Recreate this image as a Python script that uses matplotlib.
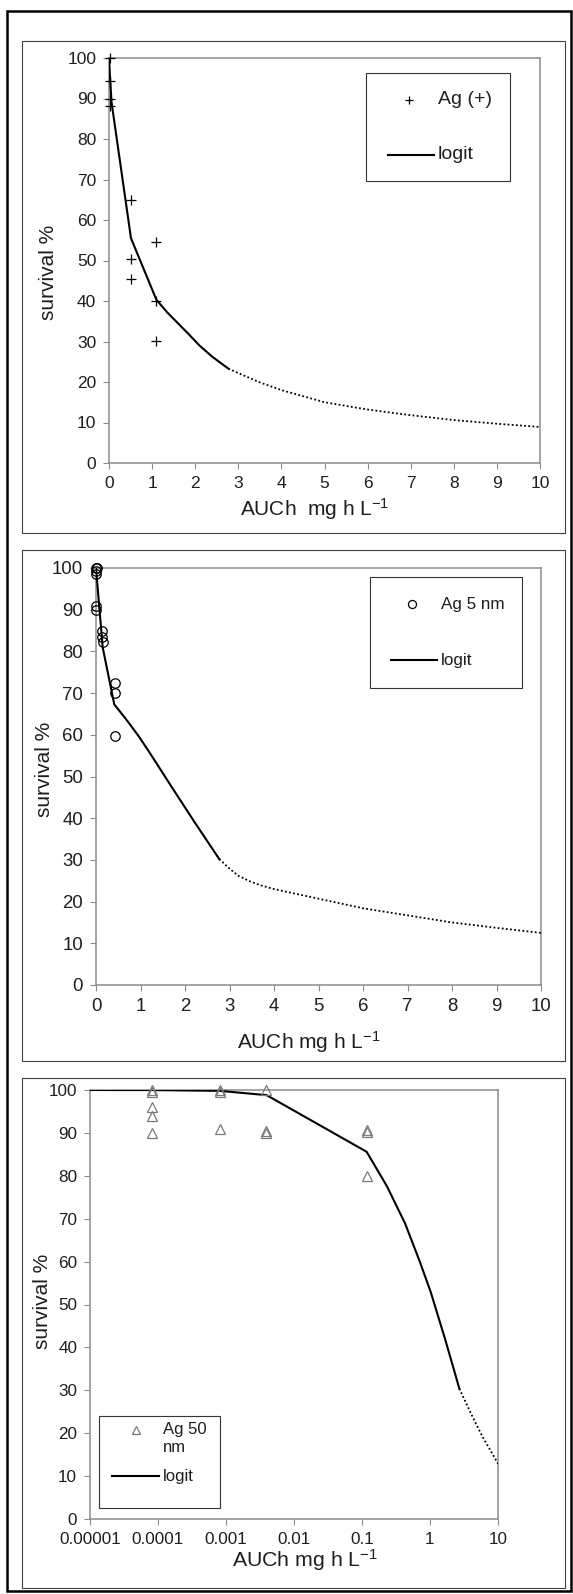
import matplotlib
matplotlib.use("Agg")
import matplotlib.pyplot as plt
from matplotlib.lines import Line2D
from matplotlib.patches import Rectangle
from matplotlib.ticker import FixedLocator, FixedFormatter

plt.rcParams['font.family'] = ['Liberation Sans', 'DejaVu Sans']
plt.rcParams['mathtext.default'] = 'regular'

W, H = 573, 1594
DPI = 100

# ---------------- data ----------------
# Panel 1: Ag (+)
ag_ion_x = [0.03, 0.03, 0.03, 0.03, 0.51, 0.51, 0.51, 1.10, 1.10, 1.10]
ag_ion_y = [100, 94.4, 90.0, 88.2, 65.0, 50.3, 45.5, 54.6, 40.1, 30.2]
ag_ion_fit_x = [0, 0.03, 0.06, 0.51, 1.10, 1.35, 1.6, 1.85, 2.1, 2.4, 2.77]
ag_ion_fit_y = [100, 94.0, 89.0, 55.5, 40.3, 37.2, 34.5, 31.8, 29.0, 26.2, 23.3]
ag_ion_ext_x = [2.77, 3, 3.5, 4, 5, 6, 7, 8, 9, 10]
ag_ion_ext_y = [23.3, 22.2, 19.9, 18.0, 15.0, 13.2, 11.8, 10.6, 9.7, 8.9]

# Panel 2: Ag 5 nm
ag5_x = [0.01, 0.02, 0.01, 0.0, 0.0, 0.01, 0.14, 0.14, 0.15, 0.43, 0.42, 0.43]
ag5_y = [100, 100, 99.2, 98.5, 90.8, 90.0, 85.0, 83.5, 82.2, 72.5, 70.0, 59.8]
ag5_fit_x = [0, 0.15, 0.41, 0.7, 0.97, 1.2, 1.46, 1.7, 1.95, 2.2, 2.45, 2.77]
ag5_fit_y = [100, 81.0, 67.3, 63.4, 59.5, 55.8, 51.5, 47.5, 43.4, 39.3, 35.3, 30.2]
ag5_ext_x = [2.77, 3.0, 3.2, 3.45, 3.7, 4.0, 5.0, 6.0, 7.0, 8.0, 9.0, 10]
ag5_ext_y = [30.2, 27.9, 26.2, 24.9, 23.9, 23.0, 20.7, 18.4, 16.7, 15.0, 13.7, 12.5]

# Panel 3: Ag 50 nm (log x)
ag50_x = [8.2e-5, 8.2e-5, 8.2e-5, 8.2e-5, 8.2e-5,
          8.3e-4, 8.3e-4, 8.3e-4,
          3.9e-3, 3.9e-3, 3.9e-3,
          0.12, 0.12, 0.12]
ag50_y = [100, 99.6, 96.1, 93.9, 90.0,
          100, 99.6, 90.8,
          100, 90.5, 90.0,
          90.7, 90.1, 80.0]
ag50_fit_x = [1e-5, 8.1e-5, 8.1e-4, 3.96e-3, 0.117, 0.232, 0.43, 0.70, 1.02, 1.67, 2.7]
ag50_fit_y = [100, 99.98, 99.8, 98.8, 85.6, 77.6, 68.9, 60.2, 53.0, 41.9, 30.4]
ag50_ext_x = [2.7, 4.0, 5.07, 6.0, 8.0, 10.0]
ag50_ext_y = [30.4, 24.6, 21.3, 19.0, 15.6, 12.9]

y_ticks = list(range(0, 101, 10))
lin_x_ticks = list(range(0, 11))
log_x_ticks = [1e-5, 1e-4, 1e-3, 1e-2, 1e-1, 1, 10]
log_x_labels = ['0.00001', '0.0001', '0.001', '0.01', '0.1', '1', '10']

# ---------------- layout ----------------
fig = plt.figure(figsize=(W / DPI, H / DPI), dpi=DPI)
fig.patch.set_facecolor('white')

FRAME = '#8c8c8c'
TXT = '#1e1e1e'


def fx(x):
    return x / W


def fy(y):
    return 1 - y / H


def add_ax(l, t, r, b):
    return fig.add_axes([fx(l), fy(b), (r - l) / W, (b - t) / H])


def rect(l, t, r, b, ec, lw, z=0.5, fill=False):
    fig.add_artist(Rectangle((fx(l), fy(b)), (r - l) / W, (b - t) / H,
                             transform=fig.transFigure, fill=fill,
                             facecolor='white', edgecolor=ec, lw=lw, zorder=z))


def style(ax, fs):
    for sp in ax.spines.values():
        sp.set_color(FRAME)
        sp.set_linewidth(1.1)
    ax.tick_params(direction='out', length=4, width=0.8, color=FRAME,
                   labelsize=fs, labelcolor=TXT, pad=5.2,
                   top=False, right=False)
    ax.set_ylim(0, 100)
    ax.yaxis.set_major_locator(FixedLocator(y_ticks))


def labels(ax, box, xl, xfs, xpos, ypos, yfs):
    l, t, r, b = box
    ax.set_xlabel(xl, fontsize=xfs, color=TXT)
    ax.xaxis.label.set_va('center')
    ax.xaxis.set_label_coords((xpos[0] - l) / (r - l), (b - xpos[1]) / (b - t))
    ax.set_ylabel('survival %', fontsize=yfs, color=TXT)
    ax.yaxis.label.set_va('center')
    ax.yaxis.set_label_coords((ypos[0] - l) / (r - l), (b - ypos[1]) / (b - t))


def legend(box, entries, fs):
    rect(*box, ec='#333333', lw=0.8, z=1, fill=True)
    for kind, spec, text_xy, label in entries:
        if kind == 'marker':
            (mx, my), mk, ms, mc = spec
            fig.add_artist(Line2D([fx(mx)], [fy(my)], transform=fig.transFigure,
                                  marker=mk, ms=ms, mec=mc, mfc='none', mew=0.9,
                                  ls='none', zorder=2))
        else:
            x0, x1, yy = spec
            fig.add_artist(Line2D([fx(x0), fx(x1)], [fy(yy), fy(yy)],
                                  transform=fig.transFigure, color='black',
                                  lw=1.5, zorder=2))
        fig.text(fx(text_xy[0]), fy(text_xy[1]), label, fontsize=fs, color=TXT,
                 ha='left', va='center', linespacing=1.2, zorder=3)


# outer border and panel boxes
rect(7, 11, 571, 1591, ec='black', lw=1.8)
rect(22, 41, 565, 533, ec='#404040', lw=0.8)
rect(22, 550, 565, 1061, ec='#404040', lw=0.8)
rect(22, 1078, 565, 1588, ec='#404040', lw=0.8)

# ---------------- panel 1 ----------------
b1 = (109, 58, 540, 463)
ax1 = add_ax(*b1)
style(ax1, 12.5)
ax1.set_xlim(0, 10)
ax1.xaxis.set_major_locator(FixedLocator(lin_x_ticks))
ax1.plot(ag_ion_fit_x, ag_ion_fit_y, color='black', lw=1.5, zorder=3)
ax1.plot(ag_ion_ext_x, ag_ion_ext_y, color='black', lw=1.3, ls=(0, (1, 1.3)), zorder=3)
ax1.plot(ag_ion_x, ag_ion_y, ls='none', marker='+', ms=7, mew=0.9,
         color='black', clip_on=False, zorder=4)
labels(ax1, b1, 'AUCh  mg h L$^{-1}$', 15, (315, 509), (48, 272), 15)
legend((366, 73, 510, 181),
       [('marker', ((409.5, 100), '+', 6, 'black'), (437.5, 100), 'Ag (+)'),
        ('line', (387.5, 433.5, 154.5), (437.5, 154.5), 'logit')], 14)

# ---------------- panel 2 ----------------
b2 = (96, 568, 541, 985)
ax2 = add_ax(*b2)
style(ax2, 13.4)
ax2.set_xlim(0, 10)
ax2.xaxis.set_major_locator(FixedLocator(lin_x_ticks))
ax2.plot(ag5_fit_x, ag5_fit_y, color='black', lw=1.5, zorder=3)
ax2.plot(ag5_ext_x, ag5_ext_y, color='black', lw=1.3, ls=(0, (1, 1.3)), zorder=3)
ax2.plot(ag5_x, ag5_y, ls='none', marker='o', ms=6.8, mew=0.9,
         mec='black', mfc='none', clip_on=False, zorder=4)
labels(ax2, b2, 'AUCh mg h L$^{-1}$', 15, (309, 1042), (44, 769), 15)
legend((370, 577, 522, 688),
       [('marker', ((412, 604), 'o', 5.8, 'black'), (441, 604), 'Ag 5 nm'),
        ('line', (391, 437, 660), (441, 660), 'logit')], 12.3)

# ---------------- panel 3 ----------------
b3 = (90, 1090, 498, 1519)
ax3 = add_ax(*b3)
style(ax3, 12.3)
ax3.set_xscale('log')
ax3.set_xlim(1e-5, 10)
ax3.xaxis.set_major_locator(FixedLocator(log_x_ticks))
ax3.xaxis.set_major_formatter(FixedFormatter(log_x_labels))
ax3.xaxis.set_minor_locator(FixedLocator([]))
ax3.plot(ag50_fit_x, ag50_fit_y, color='black', lw=1.5, zorder=3)
ax3.plot(ag50_ext_x, ag50_ext_y, color='black', lw=1.3, ls=(0, (1, 1.3)), zorder=3)
ax3.plot(ag50_x, ag50_y, ls='none', marker='^', ms=7.5, mew=0.9,
         mec='#7a7a7a', mfc='none', clip_on=False, zorder=4)
labels(ax3, b3, 'AUCh mg h L$^{-1}$', 15.3, (305, 1560), (43, 1301), 15)
legend((99, 1416, 220, 1508),
       [('marker', ((136, 1429.5), '^', 6, '#7a7a7a'), (163, 1438.5), 'Ag 50\nnm'),
        ('line', (112, 159, 1476), (163, 1476), 'logit')], 12)

fig.savefig('out.png', dpi=DPI, facecolor='white')
